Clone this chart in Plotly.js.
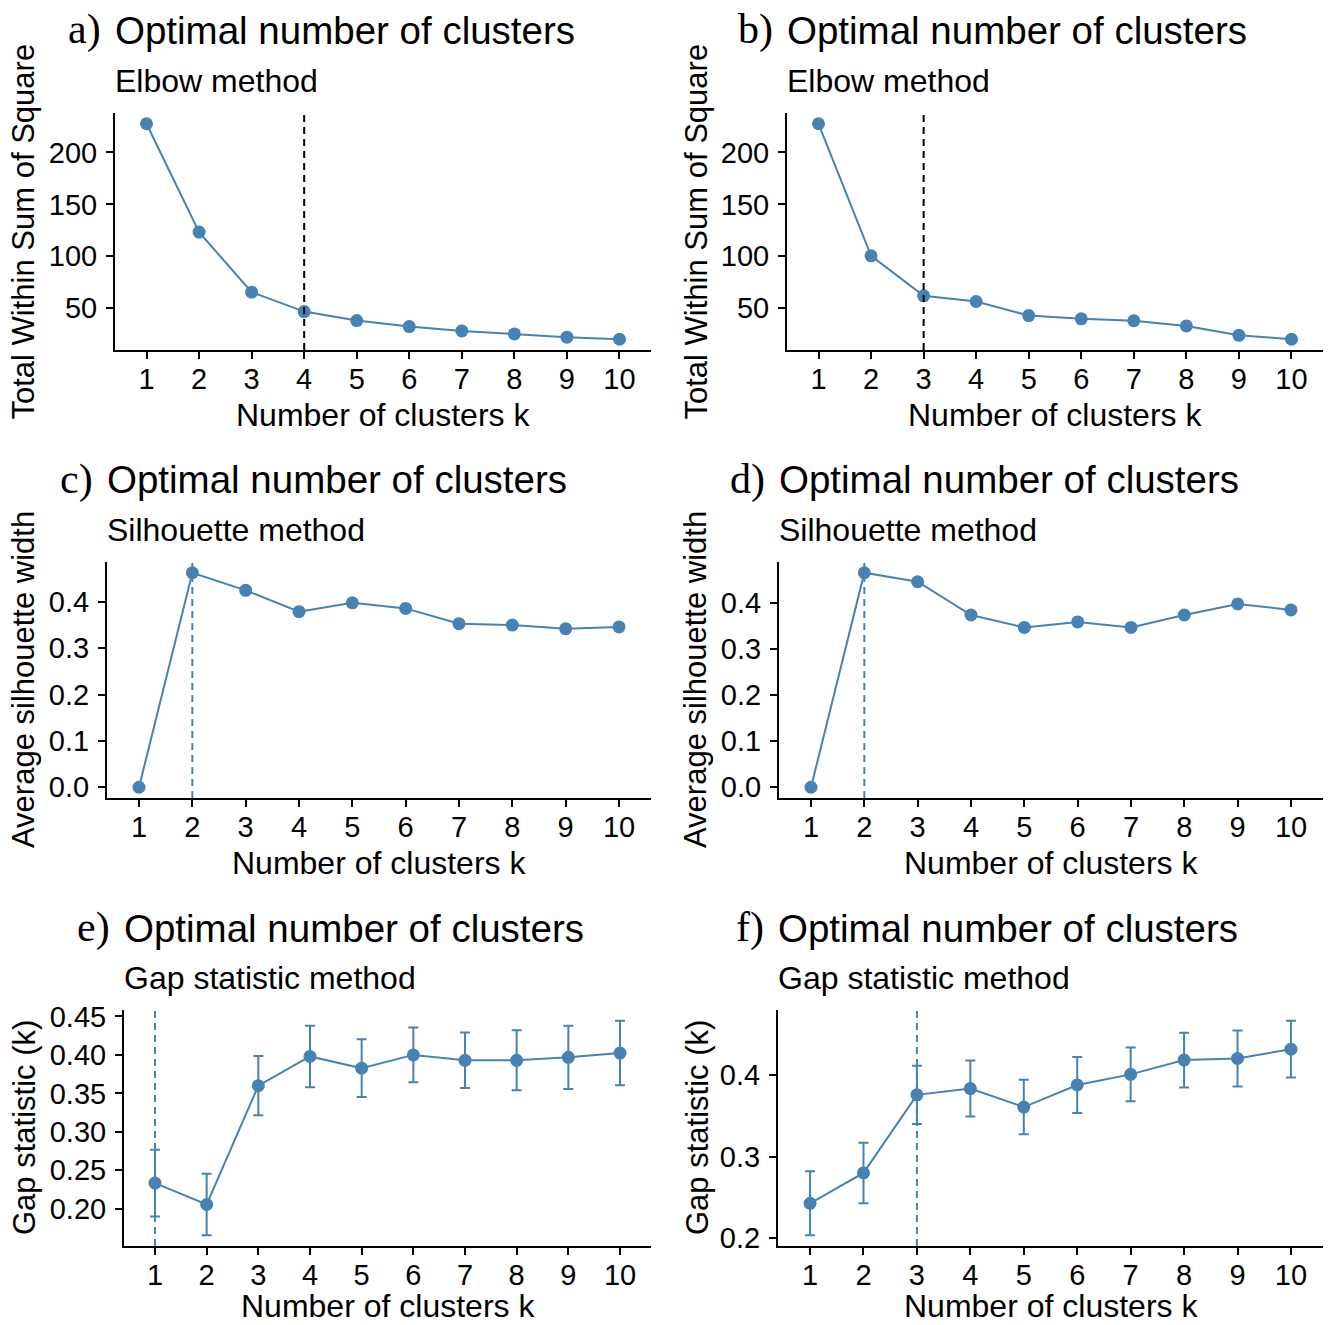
<!DOCTYPE html>
<html>
<head>
<meta charset="utf-8">
<script src="https://cdn.plot.ly/plotly-3.0.1.min.js"></script>
<style>html,body{margin:0;padding:0;background:#fff;} #chart{width:1330px;height:1325px;}</style>
</head>
<body>
<div id="chart"></div>
<script>
// ---- data ----
const k = [1, 2, 3, 4, 5, 6, 7, 8, 9, 10];
const kTickLabels = ['1', '2', '3', '4', '5', '6', '7', '8', '9', '10'];
const wssA = [227.6, 123.3, 65.5, 46.8, 38.2, 32.4, 28.2, 25.3, 22.2, 20.2];
const wssB = [227.6, 100.5, 62.0, 56.5, 43.0, 39.8, 38.0, 33.0, 24.0, 20.2];
const silC = [0.0, 0.463, 0.425, 0.379, 0.398, 0.386, 0.353, 0.350, 0.342, 0.346];
const silD = [0.0, 0.4645, 0.445, 0.373, 0.346, 0.358, 0.346, 0.373, 0.397, 0.384];
const gapE = [0.2334, 0.2056, 0.360, 0.398, 0.3827, 0.400, 0.393, 0.393, 0.3968, 0.4024];
const seE = [0.0434, 0.040, 0.0385, 0.040, 0.0375, 0.0357, 0.036, 0.039, 0.041, 0.042];
const gapF = [0.2426, 0.2799, 0.3757, 0.3834, 0.3607, 0.3878, 0.4008, 0.4183, 0.4203, 0.4317];
const seF = [0.0392, 0.0371, 0.0357, 0.0344, 0.0335, 0.0343, 0.0329, 0.0335, 0.0343, 0.0349];
const optimalK = {a: 4, b: 3, c: 2, d: 2, e: 1, f: 3};
const panelLabels = ['a)', 'b)', 'c)', 'd)', 'e)', 'f)'];
const mainTitle = 'Optimal number of clusters';
const subTitles = ['Elbow method', 'Elbow method', 'Silhouette method', 'Silhouette method', 'Gap statistic method', 'Gap statistic method'];
const yTitles = ['Total Within Sum of Square', 'Total Within Sum of Square', 'Average silhouette width', 'Average silhouette width', 'Gap statistic (k)', 'Gap statistic (k)'];
const xTitle = 'Number of clusters k';
const yTicksElbow = [50, 100, 150, 200];
const yTicksSil = [0.0, 0.1, 0.2, 0.3, 0.4];
const yTicksGapE = [0.20, 0.25, 0.30, 0.35, 0.40, 0.45];
const yTicksGapF = [0.2, 0.3, 0.4];

// ---- layout geometry (pixels) ----
const W = 1330, H = 1325;
const STEEL = '#4682B4';
const FONT = 'Liberation Sans, Arial, sans-serif';
const SERIF = 'Liberation Serif, Times New Roman, serif';
const panels = [
  {id: 'a', l: 115, r: 651, t: 113, b: 350, ytx: 23,  xty: 415, y: wssA, ticks: yTicksElbow, fmt: '', vcol: '#000'},
  {id: 'b', l: 787, r: 1323, t: 113, b: 350, ytx: 696, xty: 415, y: wssB, ticks: yTicksElbow, fmt: '', vcol: '#000'},
  {id: 'c', l: 107, r: 651, t: 562, b: 798, ytx: 23,  xty: 863, y: silC, ticks: yTicksSil, fmt: '.1f', vcol: STEEL},
  {id: 'd', l: 779, r: 1323, t: 562, b: 798, ytx: 695, xty: 863, y: silD, ticks: yTicksSil, fmt: '.1f', vcol: STEEL},
  {id: 'e', l: 124, r: 651, t: 1010, b: 1246, ytx: 24, xty: 1306, y: gapE, se: seE, ticks: yTicksGapE, fmt: '.2f', vcol: STEEL},
  {id: 'f', l: 778, r: 1323, t: 1010, b: 1246, ytx: 697, xty: 1306, y: gapF, se: seF, ticks: yTicksGapF, fmt: '.1f', vcol: STEEL}
];

const px = x => x / W;
const py = y => 1 - y / H;

const data = [];
const layout = {
  width: W, height: H,
  margin: {l: 0, r: 0, t: 0, b: 0},
  paper_bgcolor: '#fff', plot_bgcolor: '#fff',
  showlegend: false,
  font: {family: FONT, color: '#000'},
  annotations: [], shapes: []
};

panels.forEach((p, i) => {
  const n = i + 1;
  const xa = 'x' + (n === 1 ? '' : n), ya = 'y' + (n === 1 ? '' : n);
  const xk = 'xaxis' + (n === 1 ? '' : n), yk = 'yaxis' + (n === 1 ? '' : n);
  const tr = {
    x: k, y: p.y, type: 'scatter', mode: 'lines+markers',
    xaxis: xa, yaxis: ya,
    line: {color: STEEL, width: 2},
    marker: {color: STEEL, size: 13},
    hoverinfo: 'x+y'
  };
  let lo = Math.min(...p.y), hi = Math.max(...p.y);
  if (p.se) {
    tr.error_y = {type: 'data', array: p.se, visible: true, color: STEEL, thickness: 2, width: 5};
    lo = Math.min(...p.y.map((v, j) => v - p.se[j]));
    hi = Math.max(...p.y.map((v, j) => v + p.se[j]));
  }
  data.push(tr);
  const pad = (hi - lo) * 0.05;
  layout[xk] = {
    domain: [px(p.l), px(p.r)], anchor: ya,
    range: [0.4, 10.6], tickvals: k, ticktext: kTickLabels,
    showline: true, linecolor: '#000', linewidth: 2,
    ticks: 'outside', ticklen: 7, tickwidth: 2, tickcolor: '#000',
    ticklabelstandoff: -5,
    showgrid: false, zeroline: false, fixedrange: true,
    tickfont: {family: FONT, size: 29, color: '#000'}
  };
  layout[yk] = {
    domain: [py(p.b), py(p.t)], anchor: xa,
    range: [lo - pad, hi + pad], tickvals: p.ticks, tickformat: p.fmt,
    showline: true, linecolor: '#000', linewidth: 2,
    ticks: 'outside', ticklen: 7, tickwidth: 2, tickcolor: '#000',
    ticklabelstandoff: 3,
    showgrid: false, zeroline: false, fixedrange: true,
    tickfont: {family: FONT, size: 29, color: '#000'}
  };
  // dashed optimal-k line
  layout.shapes.push({
    type: 'line', xref: xa, yref: ya + ' domain',
    x0: optimalK[p.id], x1: optimalK[p.id], y0: 0, y1: 1,
    line: {color: p.vcol, width: 2, dash: '7px,5px'}
  });
  // panel label, title, subtitle
  layout.annotations.push({
    xref: 'paper', yref: 'paper', x: px(p.l - 12), y: py(p.t - 83),
    xanchor: 'right', yanchor: 'middle', showarrow: false,
    text: panelLabels[i], font: {family: SERIF, size: 42, color: '#000'}
  });
  layout.annotations.push({
    xref: 'paper', yref: 'paper', x: px(p.l - 2), y: py(p.t - 82),
    xanchor: 'left', yanchor: 'middle', showarrow: false,
    text: mainTitle, font: {family: FONT, size: 38.5, color: '#000'}
  });
  layout.annotations.push({
    xref: 'paper', yref: 'paper', x: px(p.l - 2), y: py(p.t - 32),
    xanchor: 'left', yanchor: 'middle', showarrow: false,
    text: subTitles[i], font: {family: FONT, size: 32, color: '#000'}
  });
  // axis titles
  layout.annotations.push({
    xref: 'paper', yref: 'paper', x: px((p.l + p.r) / 2), y: py(p.xty),
    xanchor: 'center', yanchor: 'middle', showarrow: false,
    text: xTitle, font: {family: FONT, size: 32, color: '#000'}
  });
  layout.annotations.push({
    xref: 'paper', yref: 'paper', x: px(p.ytx), y: py((p.t + p.b) / 2),
    xanchor: 'center', yanchor: 'middle', showarrow: false, textangle: -90,
    text: yTitles[i], font: {family: FONT, size: 31, color: '#000'}
  });
});

Plotly.newPlot('chart', data, layout, {displayModeBar: false, staticPlot: true});
</script>
</body>
</html>
